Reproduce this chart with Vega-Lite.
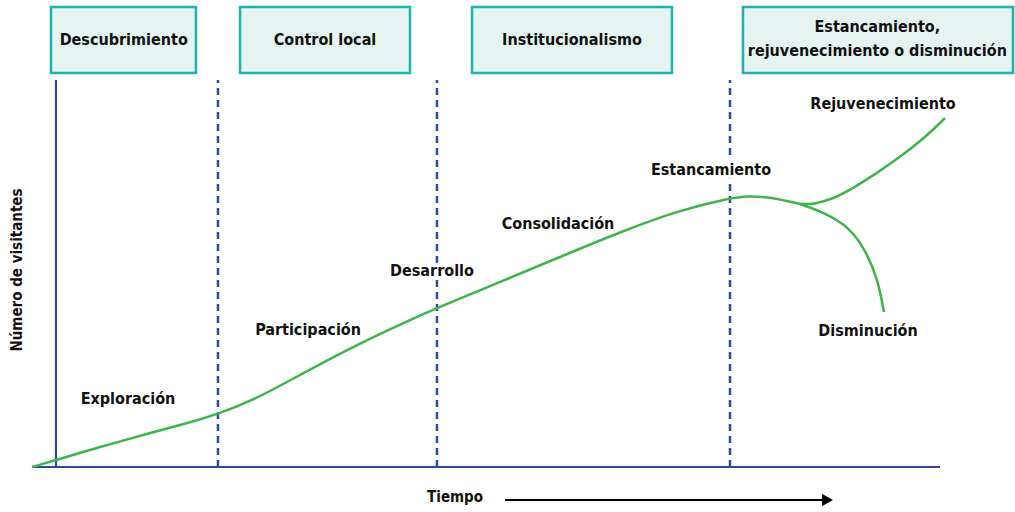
{
  "$schema": "https://vega.github.io/schema/vega-lite/v6.json",
  "width": 908,
  "height": 387,
  "autosize": "none",
  "padding": {"left": 32, "top": 80, "right": 75, "bottom": 45},
  "background": "white",
  "config": {"view": {"stroke": null}, "font": "'DejaVu Sans Condensed', 'Open Sans', sans-serif"},
  "datasets": {
    "axes": [
      {"t": 0, "t2": 100, "v": 0, "v2": 0},
      {"t": 2.64, "t2": 2.64, "v": 0, "v2": 100}
    ],
    "bounds": [
      {"t": 20.48, "v": 0, "v2": 100},
      {"t": 44.6, "v": 0, "v2": 100},
      {"t": 76.87, "v": 0, "v2": 100}
    ],
    "curve": [
      {"branch": "main", "o": 1, "t": 0, "v": 0},
      {"branch": "main", "o": 2, "t": 2.64, "v": 1.81},
      {"branch": "main", "o": 3, "t": 7.49, "v": 5.17},
      {"branch": "main", "o": 4, "t": 13.0, "v": 8.79},
      {"branch": "main", "o": 5, "t": 16.85, "v": 11.11},
      {"branch": "main", "o": 6, "t": 20.48, "v": 13.7},
      {"branch": "main", "o": 7, "t": 24.0, "v": 16.8},
      {"branch": "main", "o": 8, "t": 29.52, "v": 23.77},
      {"branch": "main", "o": 9, "t": 35.02, "v": 30.75},
      {"branch": "main", "o": 10, "t": 41.63, "v": 37.98},
      {"branch": "main", "o": 11, "t": 44.6, "v": 41.09},
      {"branch": "main", "o": 12, "t": 51.54, "v": 47.8},
      {"branch": "main", "o": 13, "t": 58.15, "v": 54.26},
      {"branch": "main", "o": 14, "t": 64.76, "v": 60.72},
      {"branch": "main", "o": 15, "t": 71.37, "v": 66.41},
      {"branch": "main", "o": 16, "t": 76.87, "v": 69.51},
      {"branch": "main", "o": 17, "t": 78.85, "v": 70.03},
      {"branch": "main", "o": 18, "t": 81.28, "v": 69.77},
      {"branch": "main", "o": 19, "t": 84.58, "v": 67.96},
      {"branch": "rejuv", "o": 1, "t": 84.58, "v": 67.96},
      {"branch": "rejuv", "o": 2, "t": 86.2, "v": 67.9},
      {"branch": "rejuv", "o": 3, "t": 88.4, "v": 69.5},
      {"branch": "rejuv", "o": 4, "t": 90.09, "v": 71.58},
      {"branch": "rejuv", "o": 5, "t": 92.9, "v": 75.7},
      {"branch": "rejuv", "o": 6, "t": 95.59, "v": 80.1},
      {"branch": "rejuv", "o": 7, "t": 97.7, "v": 84.0},
      {"branch": "rejuv", "o": 8, "t": 99.23, "v": 87.08},
      {"branch": "rejuv", "o": 9, "t": 100.55, "v": 90.18},
      {"branch": "decl", "o": 1, "t": 84.58, "v": 67.96},
      {"branch": "decl", "o": 2, "t": 87.0, "v": 66.0},
      {"branch": "decl", "o": 3, "t": 90.09, "v": 62.0},
      {"branch": "decl", "o": 4, "t": 91.96, "v": 55.3},
      {"branch": "decl", "o": 5, "t": 93.17, "v": 48.3},
      {"branch": "decl", "o": 6, "t": 93.83, "v": 40.05}
    ],
    "boxes": [
      {"label": "Descubrimiento", "t": 2.09, "t2": 18.06, "tc": 10.1, "v": 101.81, "v2": 118.86, "vc": 110.3},
      {"label": "Control local", "t": 22.91, "t2": 41.63, "tc": 32.27, "v": 101.81, "v2": 118.86, "vc": 110.3},
      {"label": "Institucionalismo", "t": 48.46, "t2": 70.48, "tc": 59.47, "v": 101.81, "v2": 118.86, "vc": 110.3},
      {"label": "Estancamiento,\nrejuvenecimiento o disminución", "t": 78.3, "t2": 108.04, "tc": 93.1, "v": 101.81, "v2": 118.86, "vc": 113.6}
    ],
    "stages": [
      {"label": "Exploración", "t": 10.57, "v": 17.57},
      {"label": "Participación", "t": 30.4, "v": 35.4},
      {"label": "Desarrollo", "t": 44.05, "v": 50.65},
      {"label": "Consolidación", "t": 57.93, "v": 62.79},
      {"label": "Estancamiento", "t": 74.78, "v": 76.74},
      {"label": "Rejuvenecimiento", "t": 93.72, "v": 93.8},
      {"label": "Disminución", "t": 92.07, "v": 35.14}
    ],
    "ytitle": [{"label": "Número de visitantes", "t": -1.65, "v": 50.9}],
    "xtitle": [{"label": "Tiempo", "t": 46.59, "v": -7.75}],
    "arrow": [{"t": 52.09, "t2": 87.3, "v": -8.53, "tend": 87.6}]
  },
  "layer": [
    {
      "data": {"name": "boxes"},
      "mark": {"type": "rect", "fill": "#e5f3f1", "stroke": "#1bb3ad", "strokeWidth": 2.5},
      "encoding": {
        "x": {"field": "t", "type": "quantitative", "scale": {"domain": [0, 100], "nice": false, "zero": false}, "axis": null},
        "x2": {"field": "t2"},
        "y": {"field": "v", "type": "quantitative", "scale": {"domain": [0, 100], "nice": false, "zero": false}, "axis": null},
        "y2": {"field": "v2"}
      }
    },
    {
      "data": {"name": "boxes"},
      "mark": {"type": "text", "fontSize": 16, "fontWeight": "bold", "color": "#111111", "lineBreak": "\n", "lineHeight": 24, "align": "center", "baseline": "middle"},
      "encoding": {
        "x": {"field": "tc", "type": "quantitative"},
        "y": {"field": "vc", "type": "quantitative"},
        "text": {"field": "label"}
      }
    },
    {
      "data": {"name": "axes"},
      "mark": {"type": "rule", "color": "#2e4a9a", "strokeWidth": 2.2},
      "encoding": {
        "x": {"field": "t", "type": "quantitative"},
        "x2": {"field": "t2"},
        "y": {"field": "v", "type": "quantitative"},
        "y2": {"field": "v2"}
      }
    },
    {
      "data": {"name": "bounds"},
      "mark": {"type": "rule", "color": "#2e4a9a", "strokeWidth": 2.5, "strokeDash": [7, 5]},
      "encoding": {
        "x": {"field": "t", "type": "quantitative"},
        "y": {"field": "v", "type": "quantitative"},
        "y2": {"field": "v2"}
      }
    },
    {
      "data": {"name": "curve"},
      "mark": {"type": "line", "color": "#3db54a", "strokeWidth": 2.5, "interpolate": "basis"},
      "encoding": {
        "x": {"field": "t", "type": "quantitative"},
        "y": {"field": "v", "type": "quantitative"},
        "detail": {"field": "branch"},
        "order": {"field": "o", "type": "quantitative"}
      }
    },
    {
      "data": {"name": "stages"},
      "mark": {"type": "text", "fontSize": 16, "fontWeight": "bold", "color": "#ffffff", "stroke": "#ffffff", "strokeWidth": 7, "align": "center", "baseline": "middle"},
      "encoding": {
        "x": {"field": "t", "type": "quantitative"},
        "y": {"field": "v", "type": "quantitative"},
        "text": {"field": "label"}
      }
    },
    {
      "data": {"name": "stages"},
      "mark": {"type": "text", "fontSize": 16, "fontWeight": "bold", "color": "#111111", "align": "center", "baseline": "middle"},
      "encoding": {
        "x": {"field": "t", "type": "quantitative"},
        "y": {"field": "v", "type": "quantitative"},
        "text": {"field": "label"}
      }
    },
    {
      "data": {"name": "ytitle"},
      "mark": {"type": "text", "fontSize": 15, "fontWeight": "bold", "color": "#111111", "angle": 270, "align": "center", "baseline": "middle"},
      "encoding": {
        "x": {"field": "t", "type": "quantitative"},
        "y": {"field": "v", "type": "quantitative"},
        "text": {"field": "label"}
      }
    },
    {
      "data": {"name": "xtitle"},
      "mark": {"type": "text", "fontSize": 15, "fontWeight": "bold", "color": "#111111", "align": "center", "baseline": "middle"},
      "encoding": {
        "x": {"field": "t", "type": "quantitative"},
        "y": {"field": "v", "type": "quantitative"},
        "text": {"field": "label"}
      }
    },
    {
      "data": {"name": "arrow"},
      "mark": {"type": "rule", "color": "#000000", "strokeWidth": 2},
      "encoding": {
        "x": {"field": "t", "type": "quantitative"},
        "x2": {"field": "t2"},
        "y": {"field": "v", "type": "quantitative"}
      }
    },
    {
      "data": {"name": "arrow"},
      "mark": {"type": "point", "shape": "triangle-right", "filled": true, "color": "#000000", "size": 160, "opacity": 1},
      "encoding": {
        "x": {"field": "tend", "type": "quantitative"},
        "y": {"field": "v", "type": "quantitative"}
      }
    }
  ]
}
